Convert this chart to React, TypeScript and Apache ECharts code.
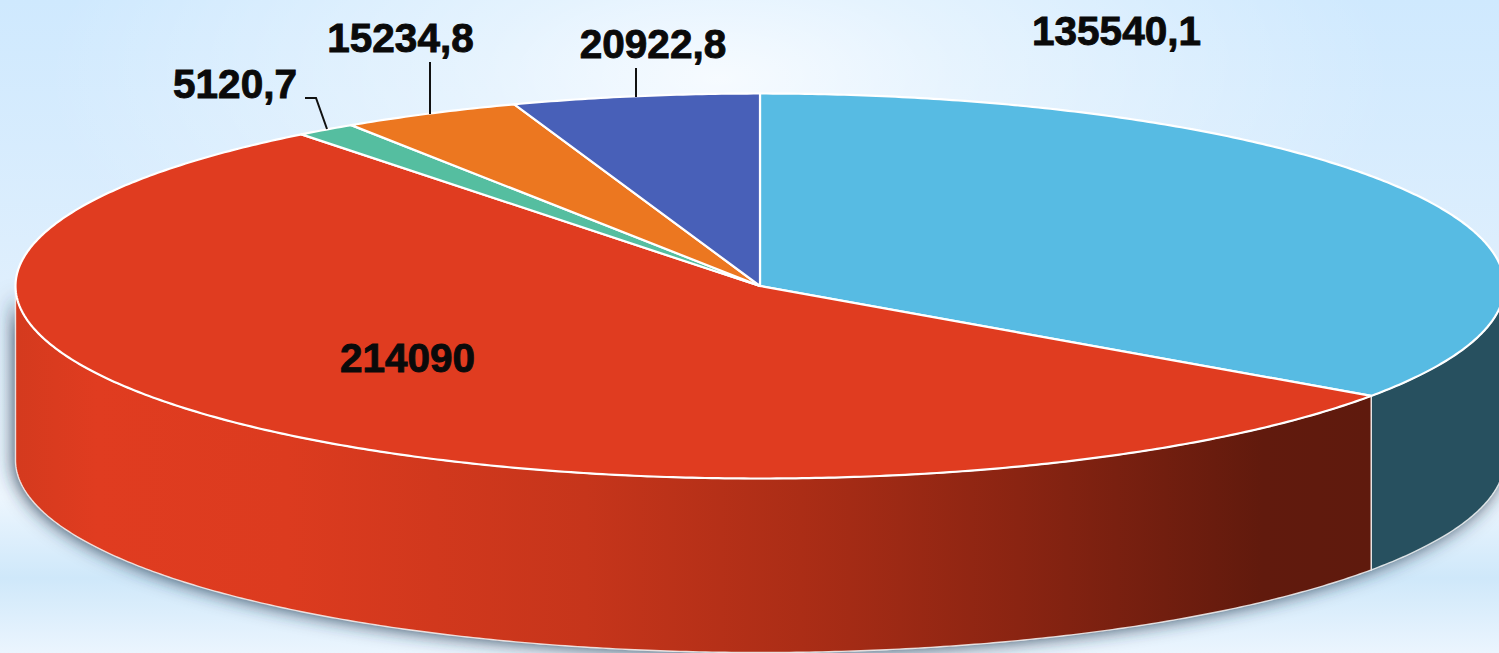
import React, { useEffect, useRef } from "react";
import * as echarts from "echarts";

// ---- data ----
const sliceValues = [135540.1, 214090, 5120.7, 15234.8, 20922.8];
const sliceLabels = ["135540,1", "214090", "5120,7", "15234,8", "20922,8"];

// ---- styles and layout ----
const topColors = ["#57bbe3", "#e03c20", "#55bea0", "#ec7720", "#4860b8"];
const sideColors: any[] = [
  "#27505f",
  new echarts.graphic.LinearGradient(0, 0, 1, 0, [
    { offset: 0, color: "#d43a1e" },
    { offset: 0.06, color: "#e03c20" },
    { offset: 0.2, color: "#dc3b1f" },
    { offset: 0.42, color: "#c6351b" },
    { offset: 0.58, color: "#ab2d16" },
    { offset: 0.74, color: "#8a2412" },
    { offset: 0.92, color: "#611a0d" },
    { offset: 1, color: "#5f1a0d" },
  ]),
  "#d0381c",
  "#b85c17",
  "#32437f",
];
const labelPos = [
  [1116.5, 31],
  [407.5, 358],
  [235, 84],
  [400.5, 38],
  [653, 44],
];
const leaders = [
  null,
  null,
  [[305, 98], [316, 98], [327, 129]],
  [[430, 62], [430, 114]],
  [[636, 68], [636, 97]],
];
const W = 1499;
const H = 653;
const CX = 760;
const CY = 286;
const RX = 744.5;
const RY = 192.5;
const DEPTH = 174;

const rad = (d: number) => (d * Math.PI) / 180;
const rim = (deg: number, dy = 0) => [
  CX + RX * Math.sin(rad(deg)),
  CY - RY * Math.cos(rad(deg)) + dy,
];
const arc = (a0: number, a1: number, dy = 0) => {
  const n = Math.max(2, Math.ceil(Math.abs(a1 - a0) / 0.5));
  const pts: number[][] = [];
  for (let i = 0; i <= n; i++) pts.push(rim(a0 + ((a1 - a0) * i) / n, dy));
  return pts;
};

const total = sliceValues.reduce((s, v) => s + v, 0);
let running = 0;
const sliceData = sliceValues.map((v) => {
  const start = (running / total) * 360;
  running += v;
  return { value: [start, (running / total) * 360, v] };
});

const renderItem = (params: any, api: any) => {
  const i = params.dataIndex;
  const a0 = api.value(0);
  const a1 = api.value(1);
  const children: any[] = [];
  const s0 = Math.max(a0, 90);
  const s1 = Math.min(a1, 270);
  if (s1 > s0) {
    children.push({
      type: "polygon",
      shape: { points: [...arc(s0, s1), ...arc(s1, s0, DEPTH)] },
      style: { fill: sideColors[i], stroke: "rgba(255,255,255,0.8)", lineWidth: 1.4 },
    });
  }
  children.push({
    type: "polygon",
    shape: { points: [[CX, CY], ...arc(a0, a1)] },
    style: { fill: topColors[i], stroke: "#ffffff", lineWidth: 2.2, lineJoin: "round" },
  });
  if (leaders[i]) {
    children.push({
      type: "polyline",
      shape: { points: leaders[i] },
      style: { fill: "none", stroke: "#111111", lineWidth: 2 },
      z2: 10,
    });
  }
  children.push({
    type: "text",
    z2: 20,
    style: {
      text: sliceLabels[i],
      x: labelPos[i][0],
      y: labelPos[i][1],
      fill: "#0a0a0a",
      stroke: "#0a0a0a",
      lineWidth: 0.9,
      font: 'bold 40.5px "Liberation Sans", Arial, sans-serif',
      textAlign: "center",
      textVerticalAlign: "middle",
    },
  });
  return { type: "group", children };
};

export default function App() {
  const ref = useRef<HTMLDivElement>(null);
  useEffect(() => {
    document.body.style.margin = "0";
    const chart = echarts.init(ref.current!, null, { renderer: "svg" });
    chart.setOption({
      animation: false,
      graphic: [
        {
          type: "rect",
          z: 0,
          shape: { x: 0, y: 0, width: W, height: H },
          style: {
            fill: new echarts.graphic.LinearGradient(0, 0, 0, 1, [
              { offset: 0, color: "#cfe9fe" },
              { offset: 0.45, color: "#dfeffd" },
              { offset: 0.76, color: "#edf6fe" },
              { offset: 0.885, color: "#cfe8fa" },
              { offset: 1, color: "#ebf5fe" },
            ]),
          },
        },
        {
          type: "rect",
          z: 0,
          shape: { x: 0, y: 0, width: W, height: H },
          style: {
            fill: new echarts.graphic.RadialGradient(0.48, 0.12, 0.45, [
              { offset: 0, color: "rgba(255,255,255,0.8)" },
              { offset: 0.35, color: "rgba(255,255,255,0.45)" },
              { offset: 1, color: "rgba(255,255,255,0)" },
            ]),
          },
        },
        {
          type: "polygon",
          z: 1,
          shape: { points: [...arc(90, 270), ...arc(270, 90, DEPTH)] },
          style: {
            fill: "#56666f",
            shadowBlur: 18,
            shadowColor: "rgba(30,50,70,0.85)",
            shadowOffsetX: -2,
            shadowOffsetY: 1,
          },
        },
      ],
      xAxis: { show: false },
      yAxis: { show: false },
      series: [
        {
          type: "custom",
          coordinateSystem: "none",
          clip: false,
          silent: true,
          renderItem,
          data: sliceData,
          z: 5,
        },
      ],
    });
    return () => chart.dispose();
  }, []);
  return <div ref={ref} style={{ width: W, height: H, overflow: "hidden" }} />;
}
